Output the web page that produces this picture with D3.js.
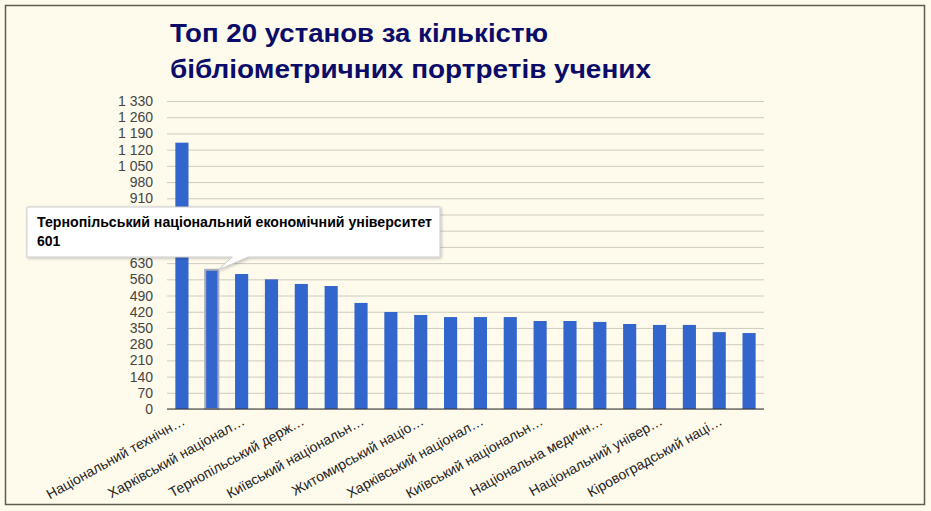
<!DOCTYPE html>
<html>
<head>
<meta charset="utf-8">
<script src="https://cdn.jsdelivr.net/npm/d3@7"></script>
<style>
  body { margin: 0; background: #fefaec; }
  text { font-family: Arial, "Liberation Sans", sans-serif; }
</style>
</head>
<body>
<div class="chart"></div>
<script>
// data
const institutions = [
  "Національний технічн…",
  "Тернопільський національний економічний університет",
  "Харківський націонал…",
  "Установа 4",
  "Тернопільський держ…",
  "Установа 6",
  "Київський національн…",
  "Установа 8",
  "Житомирський націо…",
  "Установа 10",
  "Харківський націонал…",
  "Установа 12",
  "Київський національн…",
  "Установа 14",
  "Національна медичн…",
  "Установа 16",
  "Національний універ…",
  "Установа 18",
  "Кіровоградський наці…",
  "Установа 20"
];
const portraits = [1150, 601, 583, 560, 540, 531, 458, 419, 406, 397,
  397, 397, 380, 380, 376, 367, 363, 363, 332, 328];
const yTicks = d3.range(0, 1331, 70);
const titleLines = ["Топ 20 установ за кількістю", "бібліометричних портретів учених"];
const titleWidths = [378, 481];
const highlighted = 1;

const W = 931, H = 511;
const margin = { top: 101, right: 167, bottom: 102, left: 167 };
const width = W - margin.left - margin.right,
  height = H - margin.top - margin.bottom;

// tooltip box
const tipBox = { x: 27, y: 207, w: 413, h: 50 };

const svg = d3.select(".chart")
  .append("svg")
  .attr("width", W)
  .attr("height", H);

// frame
svg.append("rect")
  .attr("x", 5.5).attr("y", 5.5)
  .attr("width", 919).attr("height", 499)
  .attr("fill", "#fefaec")
  .attr("stroke", "#5f5d4e")
  .attr("stroke-width", 1.5);

// title
svg.append("g")
  .selectAll("text")
  .data(titleLines)
  .join("text")
  .attr("x", 170)
  .attr("y", (d, i) => 42 + i * 36)
  .attr("font-size", 25)
  .attr("font-weight", "bold")
  .attr("fill", "#0b0b6a")
  .attr("textLength", (d, i) => titleWidths[i])
  .attr("lengthAdjust", "spacingAndGlyphs")
  .text(d => d);

const g = svg.append("g")
  .attr("transform", "translate(" + margin.left + "," + margin.top + ")");

// scales
const x = d3.scaleBand()
  .domain(institutions.map((d, i) => i))
  .range([0, width])
  .paddingInner(0.56)
  .paddingOuter(0.28);

const y = d3.scaleLinear()
  .domain([0, 1330])
  .range([height, 0]);

const fmt = v => d3.format(",")(v).replace(/,/g, " ");

// grid + y labels
const yAxis = d3.axisLeft(y)
  .tickValues(yTicks)
  .tickSize(-width)
  .tickPadding(14)
  .tickFormat(fmt);

g.append("g")
  .attr("class", "y-axis")
  .call(yAxis)
  .call(s => s.select(".domain").remove())
  .call(s => s.selectAll(".tick line").attr("stroke", "#cfccc0"))
  .call(s => s.selectAll(".tick text")
    .attr("fill", "#444")
    .attr("font-size", 14)
    .attr("font-family", "Arial, 'Liberation Sans', sans-serif"))
  // labels hidden behind the tooltip
  .call(s => s.selectAll(".tick")
    .filter(d => {
      const ty = margin.top + y(d);
      return ty > tipBox.y - 4 && ty < tipBox.y + tipBox.h + 4;
    })
    .select("text").remove());

// bars
g.selectAll(".bar")
  .data(portraits)
  .join("rect")
  .attr("class", "bar")
  .attr("x", (d, i) => x(i))
  .attr("y", d => y(d))
  .attr("width", x.bandwidth())
  .attr("height", d => height - y(d))
  .attr("fill", "#3366cc")
  .attr("stroke", (d, i) => i === highlighted ? "#a3a9b8" : "none")
  .attr("stroke-width", 2);

// baseline
g.append("line")
  .attr("x1", 0).attr("x2", width)
  .attr("y1", height).attr("y2", height)
  .attr("stroke", "#333");

// x labels, every other one
g.append("g")
  .selectAll("text")
  .data(institutions.filter((d, i) => i % 2 === 0))
  .join("text")
  .attr("transform", (d, i) =>
    "translate(" + (x(i * 2) + x.bandwidth() / 2 + 4) + "," + (height + 15) + ") rotate(-29)")
  .attr("text-anchor", "end")
  .attr("font-size", 14)
  .attr("fill", "#222")
  .text(d => d);

// tooltip
const defs = svg.append("defs");
const shadow = defs.append("filter").attr("id", "shadow")
  .attr("x", "-10%").attr("y", "-30%").attr("width", "120%").attr("height", "160%");
shadow.append("feDropShadow")
  .attr("dx", 1).attr("dy", 1).attr("stdDeviation", 1.5)
  .attr("flood-color", "#000").attr("flood-opacity", 0.25);

const bx = margin.left + x(highlighted) + x.bandwidth(),
  by = margin.top + y(portraits[highlighted]);
const bottom = tipBox.y + tipBox.h;
const tip = svg.append("g");
tip.append("path")
  .attr("d", `M${tipBox.x},${tipBox.y} H${tipBox.x + tipBox.w} V${bottom} H${bx + 30} L${bx},${by} L${bx + 14},${bottom} H${tipBox.x} Z`)
  .attr("fill", "#fff")
  .attr("stroke", "#ccc")
  .attr("filter", "url(#shadow)");
tip.append("text")
  .attr("x", 37).attr("y", 227)
  .attr("font-size", 14).attr("font-weight", "bold").attr("fill", "#000")
  .attr("textLength", 395).attr("lengthAdjust", "spacingAndGlyphs")
  .text(institutions[highlighted]);
tip.append("text")
  .attr("x", 37).attr("y", 246)
  .attr("font-size", 14).attr("font-weight", "bold").attr("fill", "#000")
  .text(portraits[highlighted]);
</script>
</body>
</html>
